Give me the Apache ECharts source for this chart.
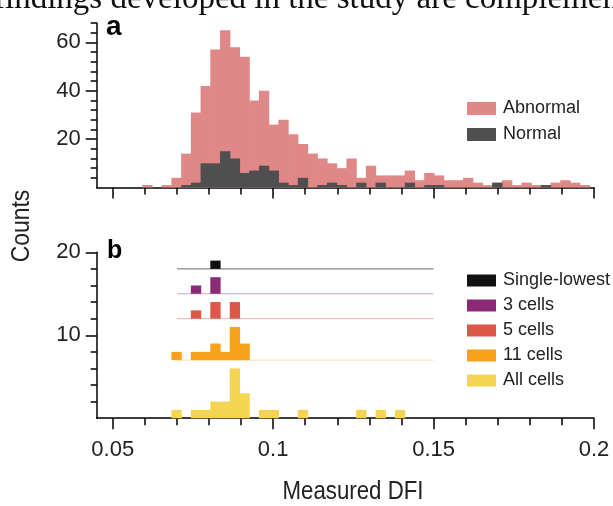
<!DOCTYPE html>
<html><head><meta charset="utf-8">
<script src="https://cdn.jsdelivr.net/npm/echarts@6/dist/echarts.min.js"></script>
<style>html,body{margin:0;padding:0;background:#fff}#c{width:613px;height:506px}</style>
</head><body><div id="c"></div>
<script>
// ---- histogram bins (shared by both panels) ----
const binStart = 0.0592;
const binWidth = 0.00303;

// ---- panel a: counts per bin ----
const abnormal = [1,0,1,4,14,31,42,57,65,58,54,36,40,26,28,22,18,14,12,10,8,12,4,9,5,5,5,7,3,6,5,3,3,4,2,1,2,3,1,2,1,1,2,3,2,1];
const normal   = [0,0,0,0,1,2,10,10,15,12,6,7,9,7,2,1,4,0,1,2,1,0,2,0,2,0,0,2,0,1,1,0,0,0,0,0,2,0,0,0,0,1,0,0,0,0];

// ---- panel b: counts per bin for each group ----
const groupNames = ['Single-lowest','3 cells','5 cells','11 cells','All cells'];
const singleLowest = [0,0,0,0,0,0,0,1,0,0,0,0,0,0,0,0,0,0,0,0,0,0,0,0,0,0,0];
const cells3       = [0,0,0,0,0,1,0,2,0,0,0,0,0,0,0,0,0,0,0,0,0,0,0,0,0,0,0];
const cells5       = [0,0,0,0,0,1,0,2,0,2,0,0,0,0,0,0,0,0,0,0,0,0,0,0,0,0,0];
const cells11      = [0,0,0,1,0,1,1,2,1,4,2,0,0,0,0,0,0,0,0,0,0,0,0,0,0,0,0];
const cellsAll     = [0,0,0,1,0,1,1,2,2,6,3,0,1,1,0,0,1,0,0,0,0,0,1,0,1,0,1];
const rowOffsets   = [18,15,12,7,0];
const refLineRange = [0.07, 0.15];

// ---- axis ticks ----
const xMajor = [0.05,0.1,0.15,0.2];
const xMinor = [0.06,0.07,0.08,0.09,0.11,0.12,0.13,0.14,0.16,0.17,0.18,0.19];
const yaMajor = [20,40,60];
const yaMinor = [4,8,12,16,24,28,32,36,44,48,52,56,64,68];
const ybMajor = [10,20];
const ybMinor = [2,4,6,8,12,14,16,18];

const colors = {
  'Abnormal':'#e08787','Normal':'#4f4f4f',
  'Single-lowest':'#111111','3 cells':'#8a2b78','5 cells':'#dd5749','11 cells':'#faa11c','All cells':'#f4d451'
};
const lineColors = ['#6a6a6a','#cfa0c6','#ecb4a6','#fcd9a6'];

function toData(counts, base){
  const out = [];
  counts.forEach((c,k)=>{ if(c>0){ const l = binStart + k*binWidth; out.push([l, l+binWidth, base, base+c]); } });
  return out;
}
function renderBar(params, api){
  const p0 = api.coord([api.value(0), api.value(3)]);
  const p1 = api.coord([api.value(1), api.value(2)]);
  return {type:'rect', shape:{x:p0[0], y:p0[1], width:p1[0]-p0[0]+0.6, height:p1[1]-p0[1]},
          style:{fill: api.visual('color')}};
}

const FONT = '"Liberation Sans", Arial, Helvetica, sans-serif';
const AX = {color:'#000', width:1.5};

function xAxes(grid, labels){
  return [
    {type:'value', gridIndex:grid, min:0.045, max:0.2, position:'bottom',
     axisLine:{show:true, onZero:false, lineStyle:AX},
     axisTick:{show:true, customValues:xMajor, length:11, lineStyle:AX},
     axisLabel:{show:labels, customValues:xMajor, fontSize:22, color:'#222', margin:21, fontFamily:FONT,
       formatter:v=>String(+v.toFixed(2))},
     splitLine:{show:false}},
    {type:'value', gridIndex:grid, min:0.045, max:0.2, position:'bottom',
     axisLine:{show:false},
     axisTick:{show:true, customValues:xMinor, length:7, lineStyle:AX},
     axisLabel:{show:false}, splitLine:{show:false}}
  ];
}
function yAxes(grid, max, major, minor){
  return [
    {type:'value', gridIndex:grid, min:0, max:max, position:'left',
     axisLine:{show:true, onZero:false, lineStyle:AX},
     axisTick:{show:true, customValues:major, length:11, lineStyle:AX},
     axisLabel:{show:true, customValues:major, fontSize:22, color:'#222', margin:16, fontFamily:FONT},
     splitLine:{show:false}},
    {type:'value', gridIndex:grid, min:0, max:max, position:'left',
     axisLine:{show:false},
     axisTick:{show:true, customValues:minor, length:6, lineStyle:AX},
     axisLabel:{show:false}, splitLine:{show:false}}
  ];
}

const series = [];
series.push({name:'Abnormal', type:'custom', xAxisIndex:0, yAxisIndex:0, renderItem:renderBar,
  itemStyle:{color:colors['Abnormal']}, data:toData(abnormal,0), z:2});
series.push({name:'Normal', type:'custom', xAxisIndex:0, yAxisIndex:0, renderItem:renderBar,
  itemStyle:{color:colors['Normal']}, data:toData(normal,0), z:3});

const groupCounts = [singleLowest, cells3, cells5, cells11, cellsAll];
groupNames.forEach((n,i)=>{
  if(i < 4){
    series.push({type:'line', xAxisIndex:2, yAxisIndex:2, symbol:'none', silent:true,
      lineStyle:{color:lineColors[i], width:1}, data:[[refLineRange[0],rowOffsets[i]],[refLineRange[1],rowOffsets[i]]], z:1});
  }
  series.push({name:n, type:'custom', xAxisIndex:2, yAxisIndex:2, renderItem:renderBar,
    itemStyle:{color:colors[n]}, data:toData(groupCounts[i], rowOffsets[i]), z:3});
});

const chart = echarts.init(document.getElementById('c'), null, {renderer:'canvas'});
chart.setOption({
  animation:false,
  backgroundColor:'#fff',
  grid:[
    {left:96.7, right:19, top:23, bottom:318.5},
    {left:96.7, right:19, top:252.3, bottom:87.8}
  ],
  xAxis:[...xAxes(0,false), ...xAxes(1,true)],
  yAxis:[...yAxes(0,68,yaMajor,yaMinor), ...yAxes(1,20,ybMajor,ybMinor)],
  legend:[
    {data:['Abnormal','Normal'], orient:'vertical', left:462, top:94.5, itemWidth:29, itemHeight:13, itemGap:8,
     icon:'rect', selectedMode:false, textStyle:{fontSize:18, color:'#222', fontFamily:FONT, padding:[0,0,0,2]}},
    {data:groupNames, orient:'vertical', left:462, top:266.5, itemWidth:29, itemHeight:12, itemGap:7,
     icon:'rect', selectedMode:false, textStyle:{fontSize:18, color:'#222', fontFamily:FONT, padding:[0,0,0,2]}}
  ],
  graphic:[
    {type:'text', x:-6, y:-1, style:{text:'findings developed in the study are complementary to', font:'33px "Liberation Serif", "Times New Roman", serif', fill:'#111', verticalAlign:'middle', textAlign:'left'}},
    {type:'text', x:106, y:27, style:{text:'a', font:'bold 28px '+FONT, fill:'#000', verticalAlign:'middle'}},
    {type:'text', x:107, y:251, style:{text:'b', font:'bold 25px '+FONT, fill:'#000', verticalAlign:'middle'}},
    {type:'text', x:22, y:226, rotation:Math.PI/2, scaleX:0.88, style:{text:'Counts', font:'26px '+FONT, fill:'#222', textAlign:'center', verticalAlign:'middle'}},
    {type:'text', x:353, y:492, scaleX:0.89, style:{text:'Measured DFI', font:'25px '+FONT, fill:'#222', textAlign:'center', verticalAlign:'middle'}}
  ],
  series:series
});
</script></body></html>
